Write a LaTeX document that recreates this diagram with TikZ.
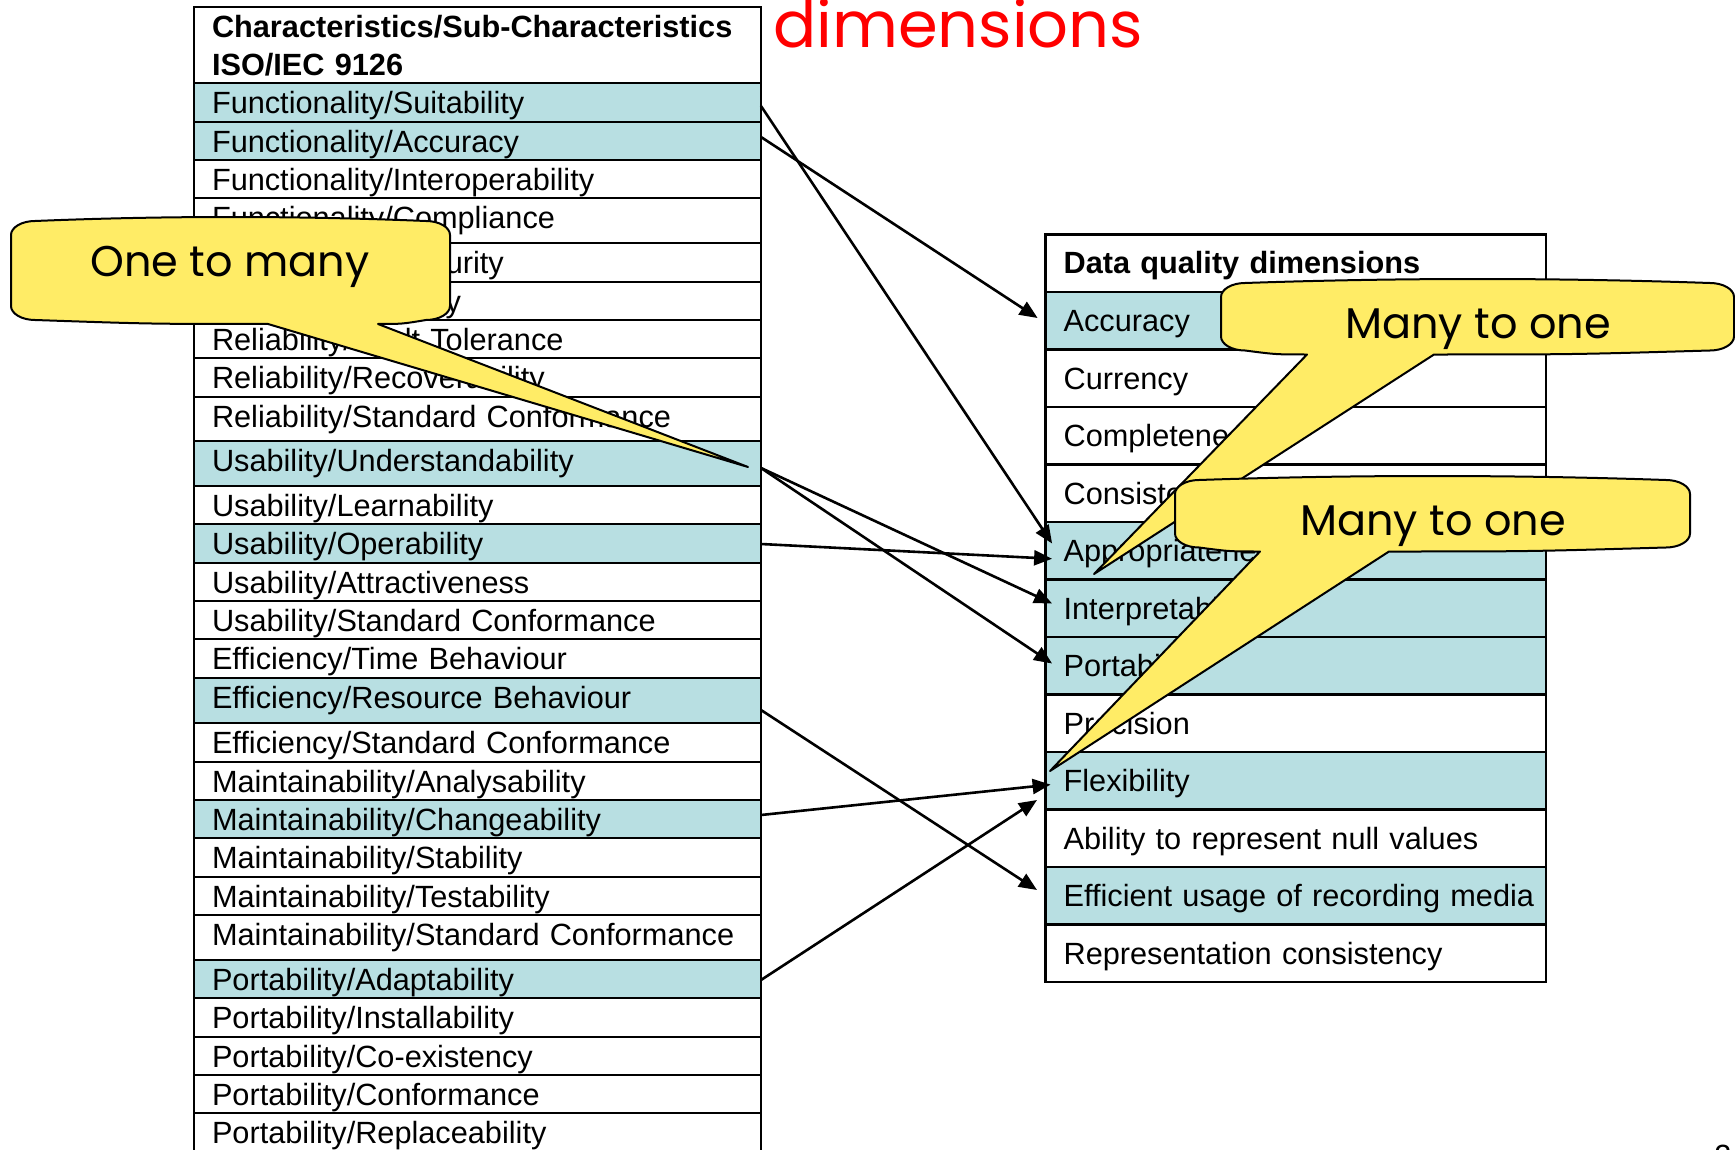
\documentclass[tikz,border=0pt]{standalone}
\usepackage{fontspec}
\setmainfont{Liberation Sans}
\newfontfamily\handfont{Poppins}
\usetikzlibrary{arrows.meta,calc}

\definecolor{rowblue}{RGB}{184,223,226}
\definecolor{noteyellow}{RGB}{255,236,102}
\definecolor{titlered}{RGB}{255,0,0}

\newcommand\tabfont{\fontsize{30.7}{38}\selectfont}
\newcommand\notefont{\handfont\fontsize{43}{48}\selectfont}

% Speech bubble: x0, y0, x1, y1, wedge base left, wedge base right, tip x, tip y
\newcommand\drawbubble[8]{%
  \filldraw[bubble]
  (#1,{#2+18})
  .. controls (#1,{#2+10.3}) and ({#1+10.8},{#2+4}) .. ({#1+24},{#2+4})
  .. controls ({#1+24+(#3-#1-48)/3},{#2-1.33}) and ({#3-24-(#3-#1-48)/3},{#2-1.33}) .. ({#3-24},{#2+4})
  .. controls ({#3-10.8},{#2+4}) and (#3,{#2+10.3}) .. (#3,{#2+18})
  -- (#3,{#4-18})
  .. controls (#3,{#4-10.3}) and ({#3-10.8},{#4-4}) .. ({#3-24},{#4-4})
  .. controls ({(#3-24+#6)/2},#4) .. (#6,#4)
  -- (#7,#8) -- (#5,#4)
  .. controls ({(#1+24+#5)/2},#4) .. ({#1+24},{#4-4})
  .. controls ({#1+10.8},{#4-4}) and (#1,{#4-10.3}) .. (#1,{#4-18})
  -- cycle;}

\tikzset{
  lrow/.style={draw, line width=2.3pt, anchor=north west, inner xsep=18pt,
    inner ysep=0pt, outer sep=0pt, text width=531pt, align=left,
    text height=30.5pt, font=\tabfont},
  rrow/.style={draw, line width=2.3pt, anchor=north west, inner xsep=18pt,
    inner ysep=0pt, outer sep=0pt, text width=464.2pt, align=left,
    text height=39.5pt, text depth=18pt, font=\tabfont},
  hl/.style={fill=rowblue},
  conn/.style={draw, line width=2.6pt, -{Triangle[length=18pt,width=15pt]}},
  bubble/.style={fill=noteyellow, draw=black, line width=2pt, line join=round},
  notetext/.style={anchor=base, inner sep=0pt, font=\notefont},
}

\begin{document}
\begin{tikzpicture}[x=1pt, y=-1pt]
\useasboundingbox (0,0) rectangle (1735,1150);
\fill[white] (0,0) rectangle (1735,1150);

% ISO/IEC 9126 characteristics
\node[lrow, text height=31pt, text depth=45pt, font=\tabfont\bfseries] (L0) at (194,7)
  {Characteristics/Sub-Characteristics\\ISO/IEC 9126};
\node[lrow, hl, text depth=8.5pt]  (L1)  at (194,83)   {Functionality/Suitability};
\node[lrow, hl, text depth=7.5pt]  (L2)  at (194,122)  {Functionality/Accuracy};
\node[lrow, text depth=7.5pt]      (L3)  at (194,160)  {Functionality/Interoperability};
\node[lrow, text depth=14.5pt]     (L4)  at (194,198)  {Functionality/Compliance};
\node[lrow, text depth=8.5pt]      (L5)  at (194,243)  {Functionality/Security};
\node[lrow, text depth=7.5pt]      (L6)  at (194,282)  {Reliability/Maturity};
\node[lrow, text depth=7.5pt]      (L7)  at (194,320)  {Reliability/Fault Tolerance};
\node[lrow, text depth=8.5pt]      (L8)  at (194,358)  {Reliability/Recoverability};
\node[lrow, text depth=13.5pt]     (L9)  at (194,397)  {Reliability/Standard Conformance};
\node[lrow, hl, text depth=14.5pt] (L10) at (194,441)  {Usability/Understandability};
\node[lrow, text depth=7.5pt]      (L11) at (194,486)  {Usability/Learnability};
\node[lrow, hl, text depth=8.5pt]  (L12) at (194,524)  {Usability/Operability};
\node[lrow, text depth=7.5pt]      (L13) at (194,563)  {Usability/Attractiveness};
\node[lrow, text depth=7.5pt]      (L14) at (194,601)  {Usability/Standard Conformance};
\node[lrow, text depth=8.5pt]      (L15) at (194,639)  {Efficiency/Time Behaviour};
\node[lrow, hl, text depth=14.5pt] (L16) at (194,678)  {Efficiency/Resource Behaviour};
\node[lrow, text depth=8.5pt]      (L17) at (194,723)  {Efficiency/Standard Conformance};
\node[lrow, text depth=7.5pt]      (L18) at (194,762)  {Maintainability/Analysability};
\node[lrow, hl, text depth=7.5pt]  (L19) at (194,800)  {Maintainability/Changeability};
\node[lrow, text depth=8.5pt]      (L20) at (194,838)  {Maintainability/Stability};
\node[lrow, text depth=7.5pt]      (L21) at (194,877)  {Maintainability/Testability};
\node[lrow, text depth=14.5pt]     (L22) at (194,915)  {\mbox{Maintainability/Standard Conformance}};
\node[lrow, hl, text depth=7.5pt]  (L23) at (194,960)  {Portability/Adaptability};
\node[lrow, text depth=8.5pt]      (L24) at (194,998)  {Portability/Installability};
\node[lrow, text depth=7.5pt]      (L25) at (194,1037) {Portability/Co-existency};
\node[lrow, text depth=7.5pt]      (L26) at (194,1075) {Portability/Conformance};
\node[lrow, text depth=11.5pt]     (L27) at (194,1113) {Portability/Replaceability};

% Data quality dimensions
\node[rrow, font=\tabfont\bfseries] (R0) at (1045.6,234.5) {Data quality dimensions};
\node[rrow, hl] (R1)  at (1045.6,292)   {Accuracy};
\node[rrow]     (R2)  at (1045.6,349.5) {Currency};
\node[rrow]     (R3)  at (1045.6,407)   {Completeness};
\node[rrow]     (R4)  at (1045.6,464.5) {Consistency};
\node[rrow, hl] (R5)  at (1045.6,522)   {Appropriateness};
\node[rrow, hl] (R6)  at (1045.6,579.5) {Interpretability};
\node[rrow, hl] (R7)  at (1045.6,637)   {Portability};
\node[rrow]     (R8)  at (1045.6,694.5) {Precision};
\node[rrow, hl] (R9)  at (1045.6,752)   {Flexibility};
\node[rrow]     (R10) at (1045.6,809.5) {Ability to represent null values};
\node[rrow, hl] (R11) at (1045.6,867)   {\mbox{Efficient usage of recording media}};
\node[rrow]     (R12) at (1045.6,924.5) {Representation consistency};

% Mapping arrows
\draw[conn] ($(L1.east)+(0,3.5)$)  -- ($(R5.west)+(6.5,-7.25)$);
\draw[conn] ($(L2.east)+(0,-4)$)   -- ($(R1.west)+(-8,-2.75)$);
\draw[conn] ($(L10.east)+(0,4.5)$) -- ($(R6.west)+(6.5,-4.75)$);
\draw[conn] ($(L10.east)+(0,4.5)$) -- ($(R7.west)+(6.5,-2.25)$);
\draw[conn] ($(L12.east)+(0,0.5)$) -- ($(R5.west)+(6.5,8)$);
\draw[conn] ($(L16.east)+(0,9.5)$) -- ($(R11.west)+(-8.6,-5.75)$);
\draw[conn] ($(L19.east)+(0,-4)$)  -- ($(R9.west)+(5,3.85)$);
\draw[conn] ($(L23.east)+(0,1)$)   -- ($(R9.west)+(-8.6,19.25)$);

% Callouts
\drawbubble{11}{217}{450}{324}{268}{378}{748}{467}
\node[notetext] (N1) at (230,277) {One to many};
\drawbubble{1221}{279}{1734}{354.5}{1307}{1434}{1094}{574}
\node[notetext] (N2) at (1478,338.5) {Many to one};
\drawbubble{1175}{476}{1690}{551.5}{1260}{1389}{1050}{771}
\node[notetext] (N3) at (1433,535) {Many to one};

% Title fragment and page number
\node[anchor=base west, inner sep=0pt, text=titlered,
  font=\handfont\fontsize{64}{70}\selectfont] (T) at (773,48) {dimensions};
\node[anchor=base, inner sep=0pt, font=\tabfont] (P) at (1723,1166) {2};
\end{tikzpicture}
\end{document}
